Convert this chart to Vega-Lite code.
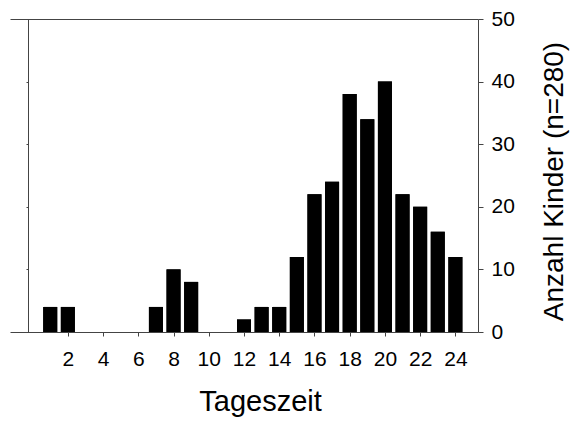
{
  "$schema": "https://vega.github.io/schema/vega-lite/v6.json",
  "width": 468,
  "height": 313,
  "autosize": {"type": "none"},
  "padding": {"left": 10, "top": 19, "right": 98, "bottom": 89},
  "background": "white",
  "config": {
    "view": {"stroke": null},
    "font": "Liberation Sans",
    "axis": {
      "grid": false,
      "domainColor": "#444",
      "tickColor": "#444",
      "labelColor": "#000",
      "titleColor": "#000",
      "labelFont": "Liberation Sans",
      "titleFont": "Liberation Sans",
      "titleFontWeight": "normal"
    }
  },
  "data": {
    "values": [
      {"hour": 1, "count": 4}, {"hour": 2, "count": 4}, {"hour": 3, "count": 0},
      {"hour": 4, "count": 0}, {"hour": 5, "count": 0}, {"hour": 6, "count": 0},
      {"hour": 7, "count": 4}, {"hour": 8, "count": 10}, {"hour": 9, "count": 8},
      {"hour": 10, "count": 0}, {"hour": 11, "count": 0}, {"hour": 12, "count": 2},
      {"hour": 13, "count": 4}, {"hour": 14, "count": 4}, {"hour": 15, "count": 12},
      {"hour": 16, "count": 22}, {"hour": 17, "count": 24}, {"hour": 18, "count": 38},
      {"hour": 19, "count": 34}, {"hour": 20, "count": 40}, {"hour": 21, "count": 22},
      {"hour": 22, "count": 20}, {"hour": 23, "count": 16}, {"hour": 24, "count": 12}
    ]
  },
  "layer": [
    {
      "mark": {"type": "bar", "size": 14, "color": "black"},
      "encoding": {
        "x": {
          "field": "hour", "type": "quantitative",
          "scale": {"domain": [-1, 25], "nice": false, "zero": false},
          "axis": {
            "orient": "bottom",
            "values": [2, 4, 6, 8, 10, 12, 14, 16, 18, 20, 22, 24],
            "tickSize": 4,
            "labelFontSize": 21,
            "labelPadding": 12,
            "labelFlush": false,
            "labelOverlap": false,
            "title": "Tageszeit",
            "titleFontSize": 29,
            "titlePadding": 18,
            "titleX": 250
          }
        },
        "y": {
          "field": "count", "type": "quantitative",
          "scale": {"domain": [0, 50], "nice": false},
          "axis": {
            "orient": "left",
            "offset": -18,
            "values": [0, 10, 20, 30, 40, 50],
            "tickSize": 2,
            "labels": false,
            "title": null
          }
        }
      }
    },
    {
      "mark": {"type": "bar", "size": 14, "color": "black"},
      "encoding": {
        "x": {
          "field": "hour", "type": "quantitative",
          "scale": {"domain": [-1, 25], "nice": false, "zero": false},
          "axis": {
            "orient": "top",
            "ticks": false,
            "labels": false,
            "title": null
          }
        },
        "y": {
          "field": "count", "type": "quantitative",
          "scale": {"domain": [0, 50], "nice": false},
          "axis": {
            "orient": "right",
            "values": [0, 10, 20, 30, 40, 50],
            "tickSize": 5,
            "labelFontSize": 21,
            "labelPadding": 8,
            "labelFlush": false,
            "title": "Anzahl Kinder (n=280)",
            "titleFontSize": 28,
            "titleAngle": 270,
            "titleBaseline": "top",
            "titlePadding": 26,
            "titleY": 162
          }
        }
      }
    }
  ],
  "resolve": {"axis": {"x": "independent", "y": "independent"}}
}
